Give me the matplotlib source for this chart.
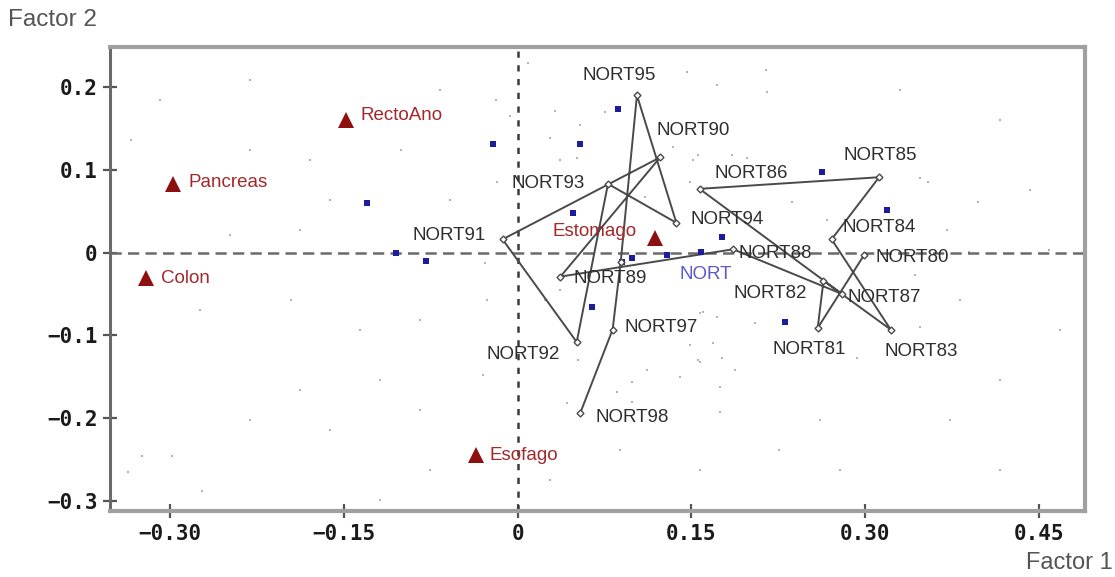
import matplotlib
matplotlib.use('Agg')
import matplotlib.pyplot as plt

# ---------------- data ----------------
# yearly trajectory of NORT (in chronological order)
traj_names = ['NORT80', 'NORT81', 'NORT82', 'NORT83', 'NORT84', 'NORT85', 'NORT86',
              'NORT87', 'NORT88', 'NORT89', 'NORT90', 'NORT91', 'NORT92', 'NORT93',
              'NORT94', 'NORT95', 'NORT96', 'NORT97', 'NORT98']
traj_x = [0.299, 0.259, 0.264, 0.322, 0.271, 0.312, 0.157, 0.280, 0.186, 0.037,
          0.123, -0.013, 0.051, 0.078, 0.137, 0.103, 0.089, 0.082, 0.054]
traj_y = [-0.003, -0.091, -0.034, -0.093, 0.016, 0.091, 0.077, -0.050, 0.004, -0.029,
          0.115, 0.016, -0.108, 0.083, 0.036, 0.190, -0.011, -0.093, -0.194]

# supplementary categories (red triangles)
site_names = ['RectoAno', 'Pancreas', 'Colon', 'Esofago', 'Estomago']
site_x = [-0.148, -0.297, -0.321, -0.036, 0.119]
site_y = [0.160, 0.083, -0.031, -0.244, 0.018]

# region point
region_name = 'NORT'
region_x = 0.158
region_y = 0.001

# blue category points
blue_x = [0.087, -0.021, 0.054, -0.130, 0.048, -0.105, -0.079, 0.090, 0.099, 0.129,
          0.176, 0.064, 0.263, 0.319, 0.231]
blue_y = [0.173, 0.131, 0.131, 0.060, 0.048, -0.001, -0.010, -0.011, -0.007, -0.003,
          0.019, -0.066, 0.097, 0.052, -0.084]

# faint individual points (background)
gray_x = [-0.324, -0.298, -0.336, -0.272, -0.019, 0.009, -0.007, 0.032, 0.054, 0.037,
          0.051, 0.075, 0.146, 0.172, 0.215, 0.214, 0.151, 0.134, 0.198, 0.156,
          -0.018, 0.110, 0.028, -0.028, -0.026, 0.024, 0.037, 0.160, 0.172, 0.149,
          0.157, 0.112, 0.140, 0.099, 0.086, 0.175, 0.188, 0.099, 0.043, 0.052,
          -0.030, 0.175, 0.149, 0.185, 0.237, 0.267, 0.347, 0.354, 0.397, 0.371,
          0.343, 0.390, 0.169, 0.157, 0.176, 0.293, 0.347, 0.156, 0.205,
          -0.334, -0.309, -0.231, -0.179, -0.248, -0.188, -0.274, -0.196, -0.136, -0.084,
          -0.119, -0.188, -0.162, -0.231, -0.084, -0.076, -0.119, -0.067, -0.101, -0.162,
          -0.058, -0.231, 0.382, 0.416, 0.442, 0.459, 0.468, 0.226, 0.278, 0.373,
          0.416, 0.157, 0.330, 0.416, 0.261, 0.088, 0.028]
gray_y = [-0.246, -0.246, -0.265, -0.288, 0.184, 0.229, 0.165, 0.171, 0.154, 0.112,
          0.114, 0.170, 0.218, 0.202, 0.194, 0.221, 0.112, 0.128, 0.114, 0.118,
          0.085, 0.067, 0.138, -0.013, -0.057, -0.057, -0.045, -0.072, -0.078, -0.112,
          -0.132, -0.142, -0.150, -0.156, -0.168, -0.162, -0.142, -0.180, -0.182, -0.130,
          -0.148, -0.192, 0.085, 0.118, 0.061, 0.039, 0.090, 0.085, 0.061, 0.027,
          -0.027, 0.001, -0.109, -0.073, -0.127, -0.127, -0.090, -0.130, -0.085,
          0.136, 0.184, 0.124, 0.112, 0.021, 0.027, -0.069, -0.057, -0.093, -0.081,
          -0.154, -0.166, -0.214, -0.202, -0.190, -0.263, -0.299, 0.196, 0.124, 0.064,
          0.064, 0.208, -0.057, -0.154, 0.076, 0.003, -0.093, -0.238, -0.263, -0.202,
          -0.263, -0.263, 0.196, 0.160, -0.202, -0.238, -0.275]

xticks = [-0.30, -0.15, 0.0, 0.15, 0.30, 0.45]
xtick_labels = ['\u22120.30', '\u22120.15', '0', '0.15', '0.30', '0.45']
yticks = [0.2, 0.1, 0.0, -0.1, -0.2, -0.3]
ytick_labels = ['0.2', '0.1', '0', '\u22120.1', '\u22120.2', '\u22120.3']

# label offsets in pixels (dx to left edge, dy upward)
traj_offsets = {
    'NORT80': (11, -2), 'NORT81': (-45, -22), 'NORT82': (-90, -13), 'NORT83': (-6, -22),
    'NORT84': (11, 12), 'NORT85': (-36, 22), 'NORT86': (15, 15), 'NORT87': (5, -4),
    'NORT88': (5, -4), 'NORT89': (13, -2), 'NORT90': (-4, 27), 'NORT91': (-90, 4),
    'NORT92': (-90, -12), 'NORT93': (-96, 0), 'NORT94': (14, 3), 'NORT95': (-54, 20),
    'NORT97': (12, 2), 'NORT98': (15, -4),
}
site_offsets = {'RectoAno': (14, 5), 'Pancreas': (15, 1), 'Colon': (15, 0),
                'Esofago': (14, -1), 'Estomago': (-103, 6)}
region_offset = (-21, -23)

# ---------------- figure ----------------
W, H = 1115, 577
fig = plt.figure(figsize=(W / 100, H / 100), dpi=100)
ax = fig.add_axes([110 / W, 1 - 511 / H, 975 / W, 464 / H])
ax.set_xlim(-0.3518, 0.4897)
ax.set_ylim(-0.3121, 0.2483)

FONT = 'Liberation Sans'

# background points
ax.plot(gray_x, gray_y, linestyle='none', marker='s', markersize=1.8,
        color='#b4b4b4', markeredgewidth=0, zorder=1)

# reference lines
ax.axvline(0, color='#3a3a3a', lw=1.8, dashes=(2.5, 3), zorder=2)
ax.axhline(0, color='#6a6a6a', lw=1.8, dashes=(4.5, 2.5), zorder=2)

# blue points
ax.plot(blue_x, blue_y, linestyle='none', marker='s', markersize=4,
        color='#1c1c9c', markeredgewidth=0, zorder=4)
ax.plot([region_x], [region_y], linestyle='none', marker='s', markersize=4,
        color='#1c1c9c', markeredgewidth=0, zorder=4)

# trajectory
ax.plot(traj_x, traj_y, color='#4a4a4a', lw=1.4, zorder=3)
ax.plot(traj_x, traj_y, linestyle='none', marker='D', markersize=3.5,
        markerfacecolor='white', markeredgecolor='#4a4a4a', markeredgewidth=1.0, zorder=5)

for name, x, y in zip(traj_names, traj_x, traj_y):
    if name in traj_offsets:
        dx, dy = traj_offsets[name]
        ax.annotate(name, xy=(x, y), xytext=(dx, dy), textcoords='offset pixels',
                    ha='left', va='center', fontsize=13.5, family=FONT,
                    color='#2e2e2e', zorder=6)

# triangles
ax.plot(site_x, site_y, linestyle='none', marker='^', markersize=11,
        color='#8e0f0f', markeredgewidth=0, zorder=5)
for name, x, y in zip(site_names, site_x, site_y):
    dx, dy = site_offsets[name]
    ax.annotate(name, xy=(x, y), xytext=(dx, dy), textcoords='offset pixels',
                ha='left', va='center', fontsize=13.5, family=FONT,
                color='#a3282a', zorder=6)

ax.annotate(region_name, xy=(region_x, region_y), xytext=region_offset,
            textcoords='offset pixels', ha='left', va='center', fontsize=13.5,
            family=FONT, color='#5a5ac8', zorder=6)

# axes styling
for side in ['top', 'right', 'bottom']:
    ax.spines[side].set_color('#a0a0a0')
    ax.spines[side].set_linewidth(3)
ax.spines['left'].set_color('#6a6a6a')
ax.spines['left'].set_linewidth(2.2)

ax.set_xticks(xticks)
ax.set_xticklabels(xtick_labels)
ax.set_yticks(yticks)
ax.set_yticklabels(ytick_labels)
ax.tick_params(direction='inout', length=10, width=1.6, color='#555555',
               labelsize=15, pad=4)
for lab in ax.get_xticklabels() + ax.get_yticklabels():
    lab.set_family('DejaVu Sans Mono')
    lab.set_fontweight('bold')
    lab.set_color('#1a1a1a')

fig.text(8 / W, 1 - 20 / H, 'Factor 2', ha='left', va='center',
         fontsize=17.5, family=FONT, color='#555555')
fig.text(1113 / W, 1 - 563 / H, 'Factor 1', ha='right', va='center',
         fontsize=17, family=FONT, color='#555555')

fig.savefig('out.png', dpi=100)
